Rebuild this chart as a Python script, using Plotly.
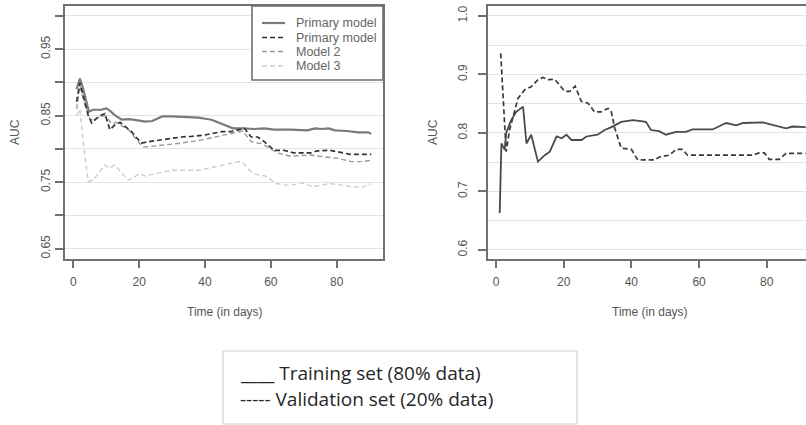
import plotly.graph_objects as go

# ---- Left panel: AUC over time for the three models ----
primary_train_days = [1, 2, 3, 4.75, 6, 8.5, 10, 11, 12.6, 14.7, 17, 20, 22, 24, 27, 30, 34, 38, 42, 45,
                      48.5, 51.5, 55, 58, 61, 66, 71, 73.5, 75.5, 77.5, 79.5, 83, 86.5, 89.5, 90.5]
primary_train_auc = [0.890, 0.906, 0.890, 0.856, 0.859, 0.859, 0.861, 0.858, 0.851, 0.844, 0.845, 0.843,
                     0.841, 0.842, 0.849, 0.849, 0.848, 0.847, 0.844, 0.838, 0.831, 0.831, 0.830, 0.831,
                     0.829, 0.829, 0.828, 0.831, 0.830, 0.831, 0.828, 0.827, 0.825, 0.825, 0.823]

primary_valid_days = [1, 2, 3, 4.5, 5.6, 7, 8.6, 9.6, 11.1, 12.6, 14.2, 16, 17.7, 19, 20.7, 23, 25.8, 29,
                      32.8, 36, 39.9, 43, 45, 48, 50, 52, 54, 56, 58, 61, 64, 67, 72, 74, 78, 81, 84, 87, 90.5]
primary_valid_auc = [0.871, 0.899, 0.880, 0.851, 0.839, 0.846, 0.851, 0.853, 0.829, 0.836, 0.840, 0.833,
                     0.826, 0.818, 0.809, 0.811, 0.813, 0.815, 0.818, 0.819, 0.821, 0.824, 0.826, 0.826,
                     0.829, 0.831, 0.818, 0.818, 0.811, 0.798, 0.798, 0.794, 0.794, 0.797, 0.798, 0.795,
                     0.792, 0.792, 0.792]

model2_days = [1, 2, 3, 5, 6.5, 8, 10, 11.5, 13, 15, 17, 19, 21.2, 24, 28.4, 33, 38.4, 43, 48.5, 51.5,
               54, 57, 59, 62, 66, 72, 76.3, 80.3, 84.4, 88, 90.5]
model2_auc = [0.860, 0.895, 0.875, 0.845, 0.843, 0.849, 0.850, 0.838, 0.840, 0.834, 0.828, 0.815, 0.803,
              0.804, 0.806, 0.809, 0.813, 0.818, 0.824, 0.827, 0.811, 0.808, 0.803, 0.794, 0.789, 0.791,
              0.788, 0.786, 0.781, 0.781, 0.783]

model3_days = [1, 2, 3, 4.5, 6, 8, 9.6, 11, 12.6, 14.5, 16.7, 18.5, 20.2, 22, 25, 30.3, 34, 38.4, 41,
               44.5, 48, 50.5, 51.5, 54.5, 58.5, 61.6, 65.7, 69.7, 72.7, 77.8, 81, 84.8, 88, 90.5]
model3_auc = [0.850, 0.860, 0.810, 0.751, 0.753, 0.766, 0.776, 0.771, 0.776, 0.765, 0.753, 0.758, 0.763,
              0.759, 0.763, 0.768, 0.768, 0.768, 0.771, 0.775, 0.778, 0.781, 0.779, 0.763, 0.759, 0.748,
              0.745, 0.749, 0.743, 0.748, 0.746, 0.743, 0.743, 0.748]

# ---- Right panel: training vs validation split ----
train_days = [1.1, 1.6, 2.6, 3, 4.5, 6, 8, 9, 10.4, 12.4, 14.4, 15.9, 17.9, 19.4, 20.8, 22.3, 25.3, 26.7,
              30, 32.1, 34.1, 37, 40.5, 44.3, 45.8, 48.2, 50.2, 53.2, 56.1, 58.1, 64, 66, 68, 71, 73,
              78.8, 81.8, 85.7, 87.7, 91.5]
train_auc = [0.663, 0.782, 0.771, 0.800, 0.822, 0.836, 0.845, 0.782, 0.797, 0.751, 0.762, 0.768, 0.794,
             0.791, 0.797, 0.788, 0.788, 0.794, 0.797, 0.805, 0.810, 0.819, 0.822, 0.819, 0.805, 0.803,
             0.797, 0.802, 0.802, 0.806, 0.806, 0.811, 0.817, 0.813, 0.817, 0.818, 0.814, 0.808, 0.811,
             0.810]

valid_days = [1.4, 3, 4, 6.5, 8.5, 10.4, 12.4, 13.9, 15.4, 17.3, 18.8, 20.3, 21.8, 23.4, 25.2, 27.2, 29.1,
              31, 33.1, 34, 35.1, 37, 40, 41.9, 46.8, 48.3, 51.2, 53.2, 55.1, 56.6, 75.8, 77.8, 79.3,
              80.7, 83.7, 85.7, 91.5]
valid_auc = [0.936, 0.768, 0.805, 0.859, 0.874, 0.879, 0.891, 0.895, 0.891, 0.892, 0.882, 0.871, 0.871,
             0.880, 0.854, 0.851, 0.836, 0.836, 0.842, 0.838, 0.808, 0.774, 0.772, 0.754, 0.754, 0.759,
             0.762, 0.772, 0.772, 0.762, 0.762, 0.766, 0.766, 0.755, 0.755, 0.765, 0.765]

left_names = ["Primary model", "Primary model", "Model 2", "Model 3"]
left_y_ticks = [0.65, 0.70, 0.75, 0.80, 0.85, 0.90, 0.95, 1.00]
left_y_labels = ["0.65", "", "0.75", "", "0.85", "", "0.95", ""]
right_y_ticks = [0.6, 0.7, 0.8, 0.9, 1.0]
right_y_labels = ["0.6", "0.7", "0.8", "0.9", "1.0"]
x_ticks = [0, 20, 40, 60, 80]
bottom_legend = ["____ Training set (80% data)", "----- Validation set (20% data)"]

W, H = 806, 425
FONT = "Liberation Sans, Arial, sans-serif"
AXIS_COL = "#707070"
GRID_COL = "#e4e4e4"
TEXT_COL = "#555555"
SHORT_DASH = "5px,3px"


def px(x):
    return x / W


def py(y):
    return 1 - y / H


left_styles = [
    dict(color="#7a7a7a", width=2.2, dash="solid"),
    dict(color="#333333", width=1.7, dash=SHORT_DASH),
    dict(color="#9a9a9a", width=1.4, dash=SHORT_DASH),
    dict(color="#cdcdcd", width=1.4, dash=SHORT_DASH),
]
left_series = [
    (primary_train_days, primary_train_auc),
    (primary_valid_days, primary_valid_auc),
    (model2_days, model2_auc),
    (model3_days, model3_auc),
]

fig = go.Figure()

# draw lighter series first so darker ones sit on top
for idx in [3, 2, 0, 1]:
    d, a = left_series[idx]
    fig.add_trace(go.Scatter(x=d, y=a, mode="lines", name=left_names[idx],
                             line=left_styles[idx], xaxis="x", yaxis="y", showlegend=False))

fig.add_trace(go.Scatter(x=valid_days, y=valid_auc, mode="lines", name="Validation set",
                         line=dict(color="#3a3a3a", width=1.7, dash=SHORT_DASH),
                         xaxis="x2", yaxis="y2", showlegend=False))
fig.add_trace(go.Scatter(x=train_days, y=train_auc, mode="lines", name="Training set",
                         line=dict(color="#4a4a4a", width=1.8, dash="solid"),
                         xaxis="x2", yaxis="y2", showlegend=False))

y_dom = [py(259), py(6)]
common_x = dict(showgrid=False, zeroline=False, showline=True, linecolor=AXIS_COL, linewidth=1.6,
                mirror=True, ticks="outside", ticklen=7, tickcolor=AXIS_COL, tickwidth=1.5,
                tickvals=x_ticks, tickfont=dict(family=FONT, size=12, color=TEXT_COL),
                ticklabelstandoff=4)
common_y = dict(zeroline=False, showline=True, linecolor=AXIS_COL, linewidth=1.6,
                ticks="outside", ticklen=8, tickcolor=AXIS_COL, tickwidth=1.5,
                gridcolor=GRID_COL, gridwidth=1, tickangle=-90,
                tickfont=dict(family=FONT, size=12, color=TEXT_COL))

fig.update_layout(
    width=W, height=H, margin=dict(l=0, r=0, t=0, b=0),
    paper_bgcolor="white", plot_bgcolor="white", showlegend=False,
    xaxis=dict(domain=[px(65), px(383)], range=[-2.52, 94.06], anchor="y", **common_x),
    yaxis=dict(domain=y_dom, range=[0.6345, 1.015], anchor="x", mirror=True,
               tickvals=left_y_ticks, ticktext=left_y_labels, ticklabelstandoff=0, **common_y),
    xaxis2=dict(domain=[px(488), 1.0], range=[-2.36, 91.6], anchor="y2", **common_x),
    yaxis2=dict(domain=y_dom, range=[0.5846, 1.017], anchor="x2", mirror=False,
                tickvals=right_y_ticks, ticktext=right_y_labels, ticklabelstandoff=6,
                minor=dict(dtick=0.05, tick0=0.6, showgrid=True, gridcolor=GRID_COL, ticklen=0),
                **common_y),
)

annotations = []
shapes = []

# axis titles
for x_c in [225, 650]:
    annotations.append(dict(text="Time (in days)", x=px(x_c), y=py(312), xref="paper", yref="paper",
                            showarrow=False, xanchor="center", yanchor="middle",
                            font=dict(family=FONT, size=12, color=TEXT_COL)))
for x_c in [15, 433]:
    annotations.append(dict(text="AUC", x=px(x_c), y=py(132), xref="paper", yref="paper",
                            showarrow=False, textangle=-90, xanchor="center", yanchor="middle",
                            font=dict(family=FONT, size=12, color=TEXT_COL)))

# legend for the left panel
shapes.append(dict(type="rect", xref="paper", yref="paper", x0=px(252), x1=px(383), y0=py(80), y1=py(6),
                   line=dict(color=AXIS_COL, width=1.6), fillcolor="white", layer="above"))
row_y = [23, 37.5, 51.5, 66]
for name, style, ry in zip(left_names, left_styles, row_y):
    shapes.append(dict(type="line", xref="paper", yref="paper", x0=px(262), x1=px(285), y0=py(ry), y1=py(ry),
                       line=dict(color=style["color"], width=style["width"], dash=style["dash"]),
                       layer="above"))
    annotations.append(dict(text=name, x=px(294), y=py(ry), xref="paper", yref="paper", showarrow=False,
                            xanchor="left", yanchor="middle",
                            font=dict(family=FONT, size=12.5, color="#666666")))

# shared legend box underneath both panels
shapes.append(dict(type="rect", xref="paper", yref="paper", x0=px(223), x1=px(577), y0=py(424), y1=py(351),
                   line=dict(color="#d0d0d0", width=1.2), fillcolor="rgba(0,0,0,0)"))
for txt, ry in zip(bottom_legend, [373, 399]):
    annotations.append(dict(text=txt, x=px(238), y=py(ry), xref="paper", yref="paper", showarrow=False,
                            xanchor="left", yanchor="middle",
                            font=dict(family="Open Sans, Noto Sans, sans-serif", size=19, color="#262626")))

fig.update_layout(annotations=annotations, shapes=shapes)
fig.write_html("out.html")
